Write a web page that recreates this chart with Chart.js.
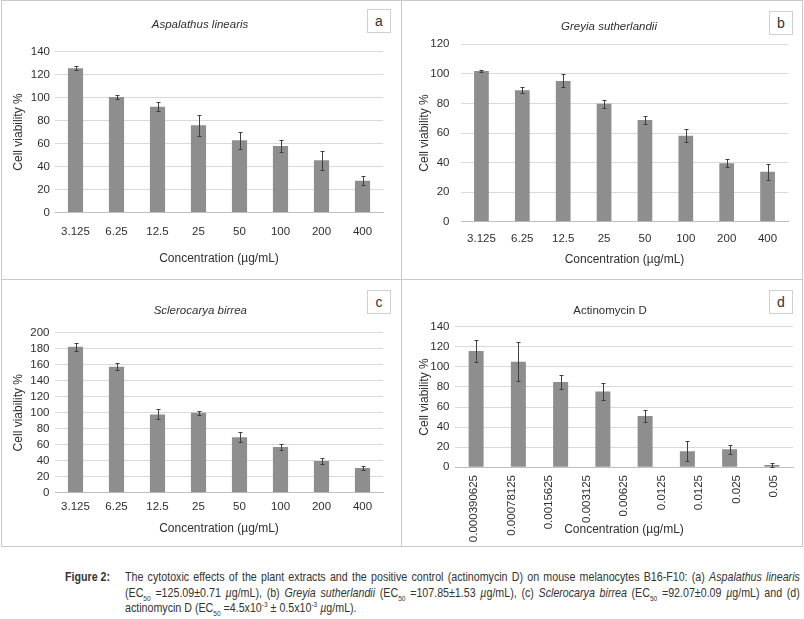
<!DOCTYPE html>
<html>
<head>
<meta charset="utf-8">
<script src="https://cdn.jsdelivr.net/npm/chart.js@4.4.1/dist/chart.umd.min.js"></script>
<style>
  html, body { margin: 0; padding: 0; background: #fff; }
  #page { position: relative; width: 804px; height: 619px; overflow: hidden; background: #fff;
          font-family: 'Liberation Sans', Arial, sans-serif; color: #333; }
  canvas.cv { position: absolute; }
  .rule { position: absolute; background: #c9c9c9; }
  .tag { position: absolute; box-sizing: border-box; width: 24px; height: 24px; border: 1px solid #d0d0d0;
         background: #fff; font-size: 14px; line-height: 22px; text-align: center; color: #333; }
  .squeeze { position: absolute; transform: scaleX(0.82); transform-origin: 0 0; white-space: nowrap;
             font-size: 13px; line-height: 15.5px; color: #333; }
  #figlab { left: 65px; top: 569px; font-weight: bold; }
  .capline { left: 125px; width: 823px; text-align: justify; text-align-last: justify; }
  .capline.last { text-align: left; text-align-last: left; }
  .capline sub, .capline sup { font-size: 8px; line-height: 0; }
</style>
</head>
<body>
<div id="page">
  <div class="rule" style="left:1px;top:0;width:802px;height:1px"></div>
  <div class="rule" style="left:1px;top:0;width:1px;height:547px"></div>
  <div class="rule" style="left:802px;top:0;width:1px;height:547px"></div>
  <div class="rule" style="left:1px;top:546px;width:802px;height:1px"></div>
  <div class="rule" style="left:401px;top:0;width:1px;height:547px"></div>
  <div class="rule" style="left:1px;top:279px;width:802px;height:1px"></div>

  <canvas class="cv" id="cA"></canvas>
  <canvas class="cv" id="cB"></canvas>
  <canvas class="cv" id="cC"></canvas>
  <canvas class="cv" id="cD"></canvas>

  <div class="tag" style="left:367px;top:9px">a</div>
  <div class="tag" style="left:769px;top:11px">b</div>
  <div class="tag" style="left:367px;top:290px">c</div>
  <div class="tag" style="left:769px;top:290px">d</div>

  <div id="figlab" class="squeeze">Figure 2:</div>
  <div class="squeeze capline" style="top:569px">The cytotoxic effects of the plant extracts and the positive control (actinomycin D) on mouse melanocytes B16-F10: (a) <i>Aspalathus linearis</i></div>
  <div class="squeeze capline" style="top:584.5px">(EC<sub>50</sub> =125.09±0.71 <i>µ</i>g/mL), (b) <i>Greyia sutherlandii</i> (EC<sub>50</sub> =107.85±1.53 <i>µ</i>g/mL), (c) <i>Sclerocarya birrea</i> (EC<sub>50</sub> =92.07±0.09 <i>µ</i>g/mL) and (d)</div>
  <div class="squeeze capline last" style="top:600px">actinomycin D (EC<sub>50</sub> =4.5x10<sup>-3</sup> ± 0.5x10<sup>-3</sup> <i>µ</i>g/mL).</div>
</div>

<script>
// ---------------- DATA ----------------
const concentrations = ['3.125', '6.25', '12.5', '25', '50', '100', '200', '400'];

const aspalathusViability = [125.4, 100.4, 92, 75.8, 62.8, 57.8, 45.4, 27.7];
const aspalathusError     = [1.7, 2, 4, 9, 7.3, 5, 8.4, 4];

const greyiaViability = [102, 88.9, 95.2, 79.8, 68.8, 58.2, 39.5, 33.8];
const greyiaError     = [0.4, 2.1, 4.4, 2.6, 2.6, 4.5, 2.7, 5.4];

const sclerocaryaViability = [182.5, 157.5, 97.9, 100, 69.2, 57, 39.6, 30.8];
const sclerocaryaError     = [4.8, 4.2, 6.2, 2.7, 6.2, 3.5, 3.7, 2.9];

const actinomycinBars      = ['0.000390625', '0.00078125', '0.0015625', '0.003125', '0.00625', '0.0125', '0.025', '0.05'];
const actinomycinTicks     = ['0.000390625', '0.00078125', '0.0015625', '0.003125', '0.00625', '0.0125', '0.0125', '0.025', '0.05'];
const actinomycinViability = [115.8, 105.2, 84.9, 75.6, 51.1, 15.9, 17.9, 2.3];
const actinomycinError     = [10.8, 19.6, 7, 8.6, 6.3, 10, 4.8, 1.8];

// ---------------- STYLE ----------------
const FONT = "'Liberation Sans', Arial, sans-serif";
const TEXT = '#2f2f2f';
const BAR = '#8e8e8e';
const GRID = '#d9d9d9';
const AXIS = '#bfbfbf';
const ERR = '#3f3f3f';
const TICK_SIZE = 11.5, AXIS_SIZE = 12, TITLE_SIZE = 11.5;

const errorBars = {
  id: 'errorBars',
  afterDatasetsDraw(chart) {
    const ctx = chart.ctx;
    chart.data.datasets.forEach((ds, i) => {
      if (!ds.errors) return;
      const meta = chart.getDatasetMeta(i);
      const ys = chart.scales[meta.yAxisID];
      ctx.save();
      ctx.strokeStyle = ERR;
      ctx.lineWidth = 1;
      meta.data.forEach((bar, j) => {
        const v = ds.data[j], e = ds.errors[j];
        const x = Math.round(bar.x) + 0.5;
        const top = Math.round(ys.getPixelForValue(v + e)) + 0.5;
        const bot = Math.round(ys.getPixelForValue(v - e)) + 0.5;
        ctx.beginPath();
        ctx.moveTo(x, top); ctx.lineTo(x, bot);
        ctx.moveTo(x - 2, top); ctx.lineTo(x + 2, top);
        ctx.moveTo(x - 2, bot); ctx.lineTo(x + 2, bot);
        ctx.stroke();
      });
      ctx.restore();
    });
  }
};

function buildPanel(id, p) {
  const c = p.canvas;
  const el = document.getElementById(id);
  el.width = c.w; el.height = c.h;
  el.style.left = c.x + 'px'; el.style.top = c.y + 'px';
  el.style.width = c.w + 'px'; el.style.height = c.h + 'px';

  const L = p.area.l - c.x, R = p.area.r - c.x, T = p.area.t - c.y, B = p.area.b - c.y;
  const lhTitle = TITLE_SIZE * 1.2, lhAxis = AXIS_SIZE * 1.2, lhTick = TICK_SIZE * 1.2;
  const padLeft = 2 * (p.titleCx - c.x) - R;
  const padRight = c.w - R;
  const titlePadTop = (p.titleCy - c.y) - lhTitle / 2;
  const titlePadBottom = T - titlePadTop - lhTitle;
  const yWidth = L - padLeft;
  const yTitleOffset = (p.yTitleX - c.x) - padLeft - lhAxis / 2;
  const yTickPad = L - (p.yTickRight - c.x);
  const titleBottom = (p.xTitleCy - c.y) + lhAxis / 2;
  const xBottom = Math.max(titleBottom, (p.xScaleBottom || 0) - c.y);
  const xTitlePadBottom = xBottom - titleBottom;
  const xHeight = xBottom - B;
  const padBottom = c.h - xBottom;
  const xTickPad = p.rotated ? (p.xTickTop - p.area.b) : (p.xTickCy - p.area.b - lhTick / 2);

  const visibleX = {
    type: 'category',
    position: 'bottom',
    offset: true,
    grid: { display: false, drawTicks: false },
    border: { display: true, color: AXIS, width: 1 },
    ticks: {
      color: TEXT, font: { family: FONT, size: TICK_SIZE }, padding: xTickPad,
      autoSkip: false,
      minRotation: p.rotated ? 90 : 0, maxRotation: p.rotated ? 90 : 0
    },
    title: {
      display: true, text: 'Concentration (µg/mL)', color: TEXT,
      font: { family: FONT, size: AXIS_SIZE }, padding: { top: 0, bottom: xTitlePadBottom }
    },
    afterFit: s => { s.height = xHeight; }
  };

  const scales = {
    y: {
      min: 0, max: p.yMax,
      ticks: { stepSize: 20, autoSkip: false, color: TEXT, font: { family: FONT, size: TICK_SIZE }, padding: yTickPad },
      grid: { color: GRID, drawTicks: false, lineWidth: 1 },
      border: { display: false },
      title: {
        display: true, text: 'Cell viability %', color: TEXT,
        font: { family: FONT, size: AXIS_SIZE }, padding: { top: yTitleOffset, bottom: 0 }
      },
      afterFit: s => { s.width = yWidth; }
    }
  };
  if (p.tickLabels) {
    scales.x = { type: 'category', display: false, offset: true };
    scales.xt = Object.assign({}, visibleX, { labels: p.tickLabels });
  } else {
    scales.x = visibleX;
  }

  return new Chart(el, {
    type: 'bar',
    data: {
      labels: p.labels,
      datasets: [{
        data: p.values,
        errors: p.errors,
        backgroundColor: BAR,
        borderWidth: 0,
        categoryPercentage: 1,
        barPercentage: p.barPct,
        xAxisID: 'x', yAxisID: 'y'
      }]
    },
    options: {
      responsive: false,
      animation: false,
      devicePixelRatio: 1,
      layout: { padding: { left: padLeft, right: padRight, top: 0, bottom: padBottom } },
      plugins: {
        legend: { display: false },
        tooltip: { enabled: false },
        title: {
          display: true, text: p.title, color: TEXT,
          font: { family: FONT, size: TITLE_SIZE, style: p.italic ? 'italic' : 'normal', weight: 'normal' },
          padding: { top: titlePadTop, bottom: titlePadBottom }
        }
      },
      scales
    },
    plugins: [errorBars]
  });
}

buildPanel('cA', {
  canvas: { x: 2, y: 1, w: 399, h: 278 },
  area: { l: 55, r: 383, t: 51.5, b: 212.5 },
  yTitleX: 18.3, yTickRight: 50, xTickCy: 232, xTitleCy: 259, titleCx: 200, titleCy: 25,
  title: 'Aspalathus linearis', italic: true, yMax: 140, barPct: 0.37,
  labels: concentrations, values: aspalathusViability, errors: aspalathusError
});

buildPanel('cB', {
  canvas: { x: 402, y: 1, w: 400, h: 278 },
  area: { l: 461, r: 788, t: 44.3, b: 221.7 },
  yTitleX: 425, yTickRight: 449.5, xTickCy: 239.3, xTitleCy: 259.3, titleCx: 609, titleCy: 27,
  title: 'Greyia sutherlandii', italic: true, yMax: 120, barPct: 0.36,
  labels: concentrations, values: greyiaViability, errors: greyiaError
});

buildPanel('cC', {
  canvas: { x: 2, y: 280, w: 399, h: 266 },
  area: { l: 55, r: 383, t: 332.7, b: 492.7 },
  yTitleX: 18.3, yTickRight: 49.5, xTickCy: 507, xTitleCy: 528.3, titleCx: 200.3, titleCy: 311,
  title: 'Sclerocarya birrea', italic: true, yMax: 200, barPct: 0.37,
  labels: concentrations, values: sclerocaryaViability, errors: sclerocaryaError
});

buildPanel('cD', {
  canvas: { x: 402, y: 280, w: 400, h: 266 },
  area: { l: 455, r: 793, t: 326.7, b: 467.3 },
  yTitleX: 425, yTickRight: 449.5, rotated: true, xTickTop: 475, xScaleBottom: 545,
  xTitleCy: 529.3, titleCx: 610, titleCy: 311,
  title: 'Actinomycin D', italic: false, yMax: 140, barPct: 0.355,
  labels: actinomycinBars, tickLabels: actinomycinTicks, values: actinomycinViability, errors: actinomycinError
});
</script>
</body>
</html>
